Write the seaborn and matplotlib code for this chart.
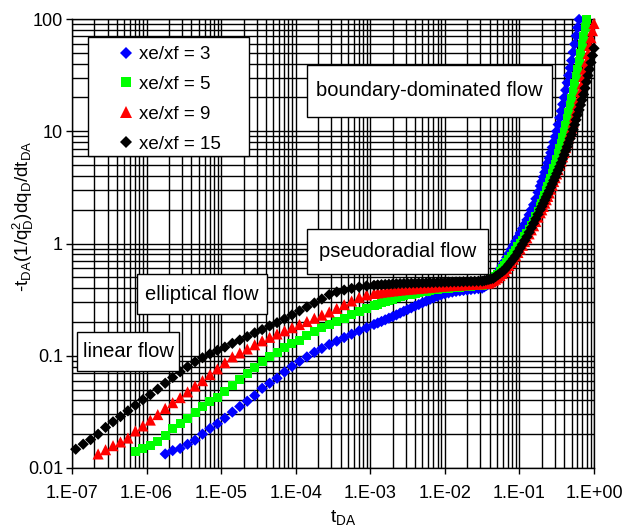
import numpy as np
import pandas as pd
import matplotlib
matplotlib.use("Agg")
import matplotlib.pyplot as plt
import seaborn as sns
from matplotlib.lines import Line2D
from matplotlib.patches import Rectangle
from matplotlib.ticker import LogLocator, FuncFormatter, NullFormatter

nan = float("nan")

# Dimensionless time t_DA shared by all four type curves
t_da = [
    1.122e-07, 1.413e-07, 1.778e-07, 2.239e-07, 2.818e-07, 3.548e-07, 4.467e-07, 5.623e-07, 7.079e-07, 8.913e-07,
    1.122e-06, 1.413e-06, 1.778e-06, 2.239e-06, 2.818e-06, 3.548e-06, 4.467e-06, 5.623e-06, 7.079e-06, 8.913e-06,
    1.122e-05, 1.413e-05, 1.778e-05, 2.239e-05, 2.818e-05, 3.548e-05, 4.467e-05, 5.623e-05, 7.079e-05, 8.913e-05,
    1.122e-04, 1.413e-04, 1.778e-04, 2.239e-04, 2.818e-04, 3.548e-04, 4.467e-04, 5.623e-04, 7.079e-04, 8.913e-04,
    1.122e-03, 1.259e-03, 1.413e-03, 1.585e-03, 1.778e-03, 1.995e-03, 2.239e-03, 2.512e-03, 2.818e-03, 3.162e-03,
    3.548e-03, 3.981e-03, 4.467e-03, 5.012e-03, 5.623e-03, 6.310e-03, 7.079e-03, 7.943e-03, 8.913e-03, 1.000e-02,
    1.122e-02, 1.259e-02, 1.413e-02, 1.585e-02, 1.778e-02, 1.995e-02, 2.239e-02, 2.512e-02, 2.818e-02, 3.162e-02,
    3.388e-02, 3.631e-02, 3.890e-02, 4.169e-02, 4.467e-02, 4.786e-02, 5.129e-02, 5.495e-02, 5.888e-02, 6.310e-02,
    6.761e-02, 7.244e-02, 7.762e-02, 8.318e-02, 8.913e-02, 9.550e-02, 0.1023, 0.1096, 0.1175, 0.1259,
    0.1349, 0.1445, 0.1549, 0.1660, 0.1778, 0.1905,
    0.1995, 0.2089, 0.2188, 0.2291, 0.2399, 0.2512, 0.2630, 0.2754, 0.2884, 0.3020,
    0.3162, 0.3311, 0.3467, 0.3631, 0.3802, 0.3981, 0.4169, 0.4365, 0.4571, 0.4786,
    0.5012, 0.5248, 0.5495, 0.5754, 0.6026, 0.6310, 0.6607, 0.6918, 0.7244, 0.7586,
    0.7943, 0.8318, 0.8710, 0.9120, 0.9550, 1.000,
]

# -t_DA (1/q_D^2) dq_D/dt_DA for each fracture penetration ratio
xe_xf_3 = [nan] * 12 + [
    0.01334, 0.01429, 0.01493, 0.01626, 0.0177, 0.02004, 0.02249, 0.02477, 0.0278, 0.03148,
    0.03532, 0.03936, 0.04416, 0.05129, 0.05689, 0.0631, 0.07161, 0.08035, 0.08913, 0.09772,
    0.1072, 0.1161, 0.1259, 0.1349, 0.1452, 0.1556, 0.1667, 0.1778,
    0.190, 0.196, 0.202, 0.209, 0.216, 0.223, 0.231, 0.240, 0.249, 0.258,
    0.267, 0.277, 0.286, 0.296, 0.307, 0.318, 0.328, 0.338, 0.348, 0.356,
    0.363, 0.369, 0.374, 0.378, 0.382, 0.385, 0.389, 0.393, 0.396, 0.400,
    0.4111, 0.4236, 0.4365, 0.4592, 0.4875, 0.5164, 0.5508, 0.5943, 0.6412, 0.6918,
    0.7516, 0.8166, 0.8872, 0.9638, 1.047, 1.138, 1.239, 1.355, 1.483, 1.622,
    1.799, 1.995, 2.213, 2.500, 2.851, 3.251,
    3.548, 3.908, 4.305, 4.742, 5.224, 5.754, 6.427, 7.178, 8.017, 8.954,
    10.0, 11.48, 13.18, 15.14, 17.38, 19.95, 23.23, 27.04, 31.48, 36.64,
    42.66, 50.47, 59.70, 70.79, 83.75, 99.08,
] + [nan] * 10

xe_xf_5 = [nan] * 8 + [
    0.01413, 0.01479, 0.01585, 0.01738, 0.01950, 0.02239, 0.02512, 0.02742, 0.03112, 0.03532,
    0.03890, 0.04285, 0.04808, 0.05458, 0.06194, 0.06998, 0.07870, 0.08831, 0.09772, 0.1079,
    0.1178, 0.1274, 0.1374, 0.1507, 0.1644, 0.1786, 0.1905, 0.2032, 0.2163, 0.2307,
    0.2455, 0.2612,
    0.2786, 0.2871, 0.2958, 0.3034, 0.3112, 0.3192, 0.3273, 0.3357, 0.3420, 0.3483,
    0.3548, 0.3606, 0.3664, 0.3715, 0.3767, 0.3811, 0.3855, 0.3899, 0.3936, 0.3972,
    0.4009, 0.4036, 0.4064, 0.4093, 0.4121, 0.4150, 0.4178, 0.4207, 0.4236, 0.4266,
    0.4340, 0.4416, 0.4493, 0.4656, 0.4870, 0.5093, 0.5346, 0.5649, 0.5970, 0.6310,
    0.6714, 0.7145, 0.7603, 0.8128, 0.8710, 0.9333, 1.0, 1.072, 1.148, 1.230,
    1.337, 1.452, 1.578, 1.738, 1.928, 2.138,
    2.291, 2.489, 2.704, 2.938, 3.192, 3.467, 3.819, 4.207, 4.634, 5.105,
    5.623, 6.281, 7.015, 7.834, 8.750, 9.772, 11.22, 12.88, 14.79, 16.98,
    19.50, 22.70, 26.42, 30.76, 35.81, 41.69, 49.55, 58.88, 69.98, 83.18,
    98.86,
] + [nan] * 5

xe_xf_9 = [nan] * 3 + [
    0.01334, 0.01455, 0.01581, 0.01706, 0.01849, 0.02138, 0.02371, 0.02673, 0.02992, 0.03396,
    0.03819, 0.04236, 0.04764, 0.05370, 0.05998, 0.06792, 0.07638, 0.08670, 0.09772, 0.1059,
    0.1148, 0.1253, 0.1358, 0.1459, 0.1563, 0.1667, 0.1778, 0.1897, 0.2018, 0.2158,
    0.2301, 0.2455, 0.2642, 0.2851, 0.3076, 0.3311, 0.3483,
    0.3589, 0.3631, 0.3681, 0.3715, 0.3750, 0.3784, 0.3819, 0.3855, 0.3882, 0.3908,
    0.3936, 0.3963, 0.3990, 0.4018, 0.4046, 0.4074, 0.4102, 0.4130, 0.4159, 0.4188,
    0.4207, 0.4227, 0.4246, 0.4266, 0.4285, 0.4305, 0.4325, 0.4345, 0.4365, 0.4385,
    0.4406, 0.4426, 0.4457, 0.4550, 0.4677, 0.4808, 0.4955, 0.5176, 0.5395, 0.5623,
    0.5984, 0.6368, 0.6776, 0.7244, 0.7762, 0.8318, 0.8933, 0.9638, 1.040, 1.122,
    1.219, 1.324, 1.439, 1.570, 1.718, 1.879,
    1.995, 2.138, 2.291, 2.455, 2.630, 2.818, 3.048, 3.296, 3.565, 3.855,
    4.169, 4.550, 4.966, 5.420, 5.916, 6.457, 7.145, 7.907, 8.750, 9.683,
    10.72, 12.08, 13.61, 15.35, 17.30, 19.50, 22.70, 26.42, 30.76, 35.81,
    41.69, 49.20, 58.08, 67.92, 78.70, 91.20,
]

xe_xf_15 = [
    0.0147, 0.0163, 0.0179, 0.0200, 0.0230, 0.0258, 0.0287, 0.0323, 0.0362, 0.0406,
    0.0450, 0.0504, 0.0569, 0.0640, 0.0719, 0.0798, 0.0883, 0.0960, 0.1038, 0.1117,
    0.1194, 0.129, 0.138, 0.148, 0.160, 0.171, 0.184, 0.197, 0.213, 0.231,
    0.251, 0.272, 0.295, 0.320, 0.351, 0.370, 0.385, 0.398, 0.410, 0.419,
    0.425, 0.428, 0.430, 0.432, 0.434, 0.436, 0.438, 0.440, 0.441, 0.442,
    0.443, 0.444, 0.445, 0.446, 0.447, 0.448, 0.449, 0.450, 0.451, 0.452,
    0.453, 0.454, 0.455, 0.456, 0.457, 0.458, 0.459, 0.460, 0.461, 0.462,
    0.4677, 0.4732, 0.4786, 0.4842, 0.4898, 0.5070, 0.5248, 0.5433, 0.5623, 0.5821,
    0.6166, 0.6516, 0.6902, 0.7311, 0.7780, 0.8414, 0.9099, 0.9829, 1.062, 1.148,
    1.259, 1.380, 1.514, 1.660, 1.820, 2.004,
    2.138, 2.280, 2.432, 2.594, 2.767, 2.951, 3.162, 3.396, 3.648, 3.908,
    4.198, 4.508, 4.842, 5.224, 5.675, 6.166, 6.699, 7.278, 7.907, 8.590,
    9.333, 10.33, 11.43, 12.65, 14.00, 15.49, 17.14, 18.97, 21.28, 24.21,
    27.54, 31.33, 35.65, 40.93, 47.32, 54.83,
]

series_labels = ["xe/xf = 3", "xe/xf = 5", "xe/xf = 9", "xe/xf = 15"]
series_values = [xe_xf_3, xe_xf_5, xe_xf_9, xe_xf_15]
colors = {"xe/xf = 3": "#0000FF", "xe/xf = 5": "#00FF00", "xe/xf = 9": "#FF0000", "xe/xf = 15": "#000000"}
markers = {"xe/xf = 3": "D", "xe/xf = 5": "s", "xe/xf = 9": "^", "xe/xf = 15": "D"}
sizes = {"xe/xf = 3": 33, "xe/xf = 5": 42, "xe/xf = 9": 64, "xe/xf = 15": 33}

x_ticks = [1e-7, 1e-6, 1e-5, 1e-4, 1e-3, 1e-2, 1e-1, 1e0]
y_ticks = [0.01, 0.1, 1, 10, 100]

frames = [
    pd.DataFrame({"t_DA": t_da, "deriv": vals, "series": lab})
    for lab, vals in zip(series_labels, series_values)
]
df = pd.concat(frames, ignore_index=True).dropna()

sns.set_theme(style="white")
plt.rcParams["font.family"] = ["Liberation Sans", "DejaVu Sans"]
plt.rcParams["mathtext.fontset"] = "custom"
plt.rcParams["mathtext.rm"] = "Liberation Sans"
plt.rcParams["mathtext.it"] = "Liberation Sans:italic"
plt.rcParams["mathtext.bf"] = "Liberation Sans:bold"

W, H = 627, 530
fig = plt.figure(figsize=(W / 100, H / 100), dpi=100)
fig.patch.set_facecolor("white")
ax = fig.add_axes([72 / W, 1 - 468 / H, 522 / W, 449 / H])

sns.scatterplot(
    data=df, x="t_DA", y="deriv",
    hue="series", style="series", size="series",
    palette=colors, markers=markers, sizes=sizes,
    hue_order=series_labels, style_order=series_labels, size_order=series_labels,
    linewidth=0, legend=False, ax=ax, zorder=3,
)
for coll in ax.collections:
    coll.set_clip_on(False)

ax.set_xscale("log")
ax.set_yscale("log")
ax.set_xlim(1e-7, 1)
ax.set_ylim(0.01, 100)

ax.xaxis.set_minor_locator(LogLocator(base=10, subs=np.arange(2, 10), numticks=20))
ax.yaxis.set_minor_locator(LogLocator(base=10, subs=np.arange(2, 10), numticks=20))
ax.set_xticks(x_ticks)
ax.set_yticks(y_ticks)
ax.xaxis.set_major_formatter(FuncFormatter(lambda v, p: "1.E%+03d" % int(round(np.log10(v)))))
ax.yaxis.set_major_formatter(FuncFormatter(lambda v, p: "%g" % v))
ax.xaxis.set_minor_formatter(NullFormatter())
ax.yaxis.set_minor_formatter(NullFormatter())

ax.grid(True, which="both", color="black", linewidth=1.0)
ax.set_axisbelow(True)
for sp in ax.spines.values():
    sp.set_color("black")
    sp.set_linewidth(1.0)

ax.tick_params(axis="both", which="major", direction="out", length=4, width=1,
               color="black", labelcolor="black", labelsize=13, bottom=True, left=True)
ax.tick_params(axis="x", which="major", pad=8.5)
ax.tick_params(axis="y", which="major", pad=2.5)
ax.tick_params(axis="both", which="minor", length=0)

ax.set_xlabel(r"t$_{\rm DA}$", fontsize=14, color="black")
ax.xaxis.set_label_coords(0.519, -0.088)
ax.set_ylabel(r"-t$_{\rm DA}$(1/q$_{\rm D}^{2}$)dq$_{\rm D}$/dt$_{\rm DA}$", fontsize=13.5, color="black")
ax.yaxis.set_label_coords(-0.069, 0.560)


def px_box(x0, y0, x1, y1, text, size):
    """Framed label placed with axes-pixel coordinates."""
    fx0 = (x0 - 72) / 522
    fx1 = (x1 - 72) / 522
    fy0 = 1 - (y1 - 19) / 449
    fy1 = 1 - (y0 - 19) / 449
    ax.add_patch(Rectangle((fx0, fy0), fx1 - fx0, fy1 - fy0, transform=ax.transAxes,
                           facecolor="white", edgecolor="black", linewidth=1.0,
                           zorder=5, clip_on=False))
    ax.text((fx0 + fx1) / 2, (fy0 + fy1) / 2, text, transform=ax.transAxes,
            ha="center", va="center", fontsize=size, color="black", zorder=6)


px_box(307, 65, 552, 117, "boundary-dominated flow", 14.5)
px_box(307, 229, 488, 274, "pseudoradial flow", 14.5)
px_box(137, 274, 267, 314, "elliptical flow", 14.5)
px_box(77, 332, 179, 371, "linear flow", 14.5)

# Legend frame and entries
ax.add_patch(Rectangle((88 / W, 1 - 156 / H), 161 / W, 119 / H, transform=fig.transFigure,
                       facecolor="white", edgecolor="black", linewidth=1.0,
                       zorder=5, clip_on=False))
handles = [
    Line2D([], [], linestyle="none", marker=markers[lab], color=colors[lab],
           markeredgewidth=0, markersize=np.sqrt(sizes[lab]))
    for lab in series_labels
]
leg = ax.legend(handles, series_labels, loc="upper left",
                bbox_to_anchor=(116.5 / W, 1 - 46 / H), bbox_transform=fig.transFigure,
                frameon=False, fontsize=13.5, handlelength=1.0, handletextpad=0.2,
                labelspacing=0.68, borderpad=0, borderaxespad=0)
leg.set_zorder(7)
for t in leg.get_texts():
    t.set_color("black")

fig.savefig("out.png", dpi=100, facecolor="white")
